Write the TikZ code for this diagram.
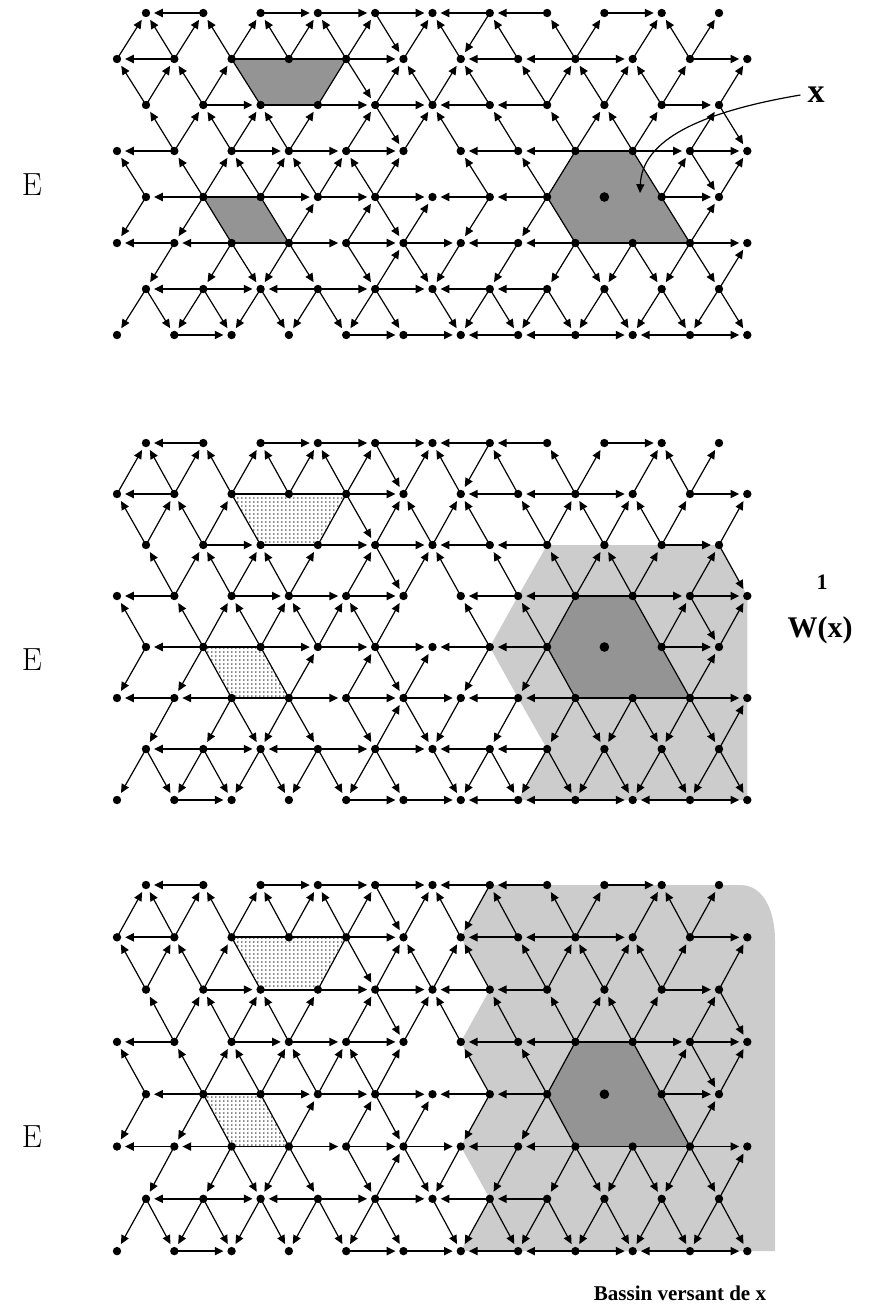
\documentclass[tikz,border=0pt]{standalone}
\usepackage{fontspec}
\newfontfamily\tms{Liberation Serif}
\usetikzlibrary{arrows.meta,patterns}
\pgfdeclarepatternformonly{sdots}{\pgfpointorigin}{\pgfqpoint{2.2pt}{2.2pt}}{\pgfqpoint{2.2pt}{2.2pt}}{\pgfpathcircle{\pgfqpoint{1.1pt}{1.1pt}}{0.42pt}\pgfusepath{fill}}
\begin{document}
\begin{tikzpicture}[x=0.5pt,y=-0.5pt,
  arr/.style={line width=0.6pt,-{Triangle[length=4.4pt,width=4pt]},shorten >=4pt},
  hz/.style={line width=0.95pt},
  pl/.style={line width=0.6pt},
  dense/.style={fill=black!42},
  mid/.style={fill=black!20},
  sparse/.style={pattern=sdots},
  lab/.style={font=\fontsize{16}{18}\selectfont},
  blab/.style={font=\tms\bfseries\fontsize{15}{17}\selectfont}
]
\useasboundingbox (0,0) rectangle (878,1313);
% lattice coordinates of the three panels
\foreach \p/\yo/\dy in {a/13/46,b/443/51,c/885/52.3}{
  \foreach \r in {0,2,4,6}{\foreach \c in {0,...,10}{\coordinate (\p-\r-\c) at ({146+57.3*\c},{\yo+\r*\dy});}}
  \foreach \r in {1,3,5,7}{\foreach \c in {0,...,11}{\coordinate (\p-\r-\c) at ({117+57.3*\c},{\yo+\r*\dy});}}
}
% shaded regions
\fill[dense] (a-1-2) -- (a-1-4) -- (a-2-3) -- (a-2-2) -- cycle;
\fill[dense] (a-4-1) -- (a-4-2) -- (a-5-3) -- (a-5-2) -- cycle;
\fill[sparse] (b-1-2) -- (b-1-4) -- (b-2-3) -- (b-2-2) -- cycle;
\fill[sparse] (b-4-1) -- (b-4-2) -- (b-5-3) -- (b-5-2) -- cycle;
\fill[sparse] (c-1-2) -- (c-1-4) -- (c-2-3) -- (c-2-2) -- cycle;
\fill[sparse] (c-4-1) -- (c-4-2) -- (c-5-3) -- (c-5-2) -- cycle;
\fill[mid] (b-2-7) -- (b-2-10) -- (b-3-11) -- (b-7-11) -- (b-7-7) -- (b-6-7) -- (b-5-7) -- (b-4-6) -- (b-3-7) -- cycle;
\fill[mid] (c-0-6) -- (c-0-10) -- (740,885) to[out=0,in=90] (775,940) -- (775,1251) -- (c-7-6) -- (c-6-6) -- (c-5-6) -- (c-4-6) -- (c-3-6) -- (c-2-6) -- (c-1-6) -- cycle;
\foreach \p in {a,b,c}{
  \fill[dense] (\p-3-8) -- (\p-3-9) -- (\p-5-10) -- (\p-5-8) -- (\p-4-7) -- cycle;
}
% connectors
\foreach \p in {a,b,c}{
  \foreach \ra/\ca/\rb/\cb in {
    0/1/0/0,0/2/0/3,0/3/0/4,0/4/0/5,0/6/0/5,0/7/0/6,0/8/0/9,
    1/0/0/0,1/1/0/0,1/1/0/1,1/2/0/1,1/2/0/2,1/3/0/2,1/3/0/3,1/4/0/3,1/4/0/4,0/4/1/5,1/5/0/5,1/6/0/5,0/6/1/6,1/7/0/6,1/8/0/7,1/8/0/8,1/9/0/9,1/10/0/9,1/10/0/10,
    1/1/1/0,1/4/1/5,1/7/1/6,1/8/1/7,1/8/1/9,1/10/1/11,
    2/0/1/0,2/0/1/1,2/1/1/1,2/1/1/2,1/4/2/4,2/4/1/5,2/5/1/5,2/5/1/6,2/6/1/6,2/7/1/7,2/7/1/8,2/8/1/8,2/8/1/9,2/9/1/9,2/9/1/10,2/10/1/11,
    2/1/2/2,2/3/2/4,2/4/2/5,2/6/2/5,2/7/2/6,2/9/2/10,
    3/1/2/0,3/1/2/1,3/2/2/1,3/2/2/2,3/3/2/2,3/3/2/3,3/4/2/4,2/4/3/5,3/5/2/5,3/6/2/5,3/7/2/6,3/8/2/7,3/8/2/8,3/9/2/8,3/9/2/9,3/10/2/10,2/10/3/11,
    3/1/3/0,3/2/3/3,3/3/3/4,3/4/3/5,3/7/3/6,3/8/3/7,3/9/3/10,3/10/3/11,
    4/0/3/0,4/1/3/1,4/1/3/2,4/2/3/2,4/2/3/3,4/3/3/3,4/3/3/4,4/4/3/4,4/4/3/5,4/6/3/6,4/7/3/7,4/9/3/10,3/10/4/10,4/10/3/11,
    4/1/4/0,4/2/4/3,4/3/4/4,4/4/4/5,4/6/4/5,4/7/4/6,4/9/4/10,
    4/0/5/0,4/1/5/1,5/3/4/3,5/4/4/4,4/4/5/5,5/5/4/5,4/6/5/6,4/7/5/7,5/10/4/10,
    5/1/5/0,5/2/5/1,5/3/5/4,5/4/5/5,5/5/5/6,5/7/5/6,5/8/5/7,5/10/5/11,
    5/1/6/0,5/2/6/1,5/2/6/2,5/3/6/2,5/3/6/3,5/4/6/4,6/4/5/5,5/5/6/5,5/6/6/5,5/7/6/6,5/8/6/7,5/8/6/8,5/9/6/8,5/9/6/9,5/10/6/9,5/10/6/10,6/10/5/11,
    6/1/6/0,6/1/6/2,6/3/6/2,6/3/6/4,6/4/6/5,6/6/6/5,6/7/6/6,
    6/0/7/0,6/0/7/1,6/1/7/1,6/1/7/2,6/2/7/2,6/2/7/3,6/3/7/3,6/3/7/4,6/4/7/4,6/4/7/5,6/5/7/6,6/6/7/6,6/6/7/7,6/7/7/7,6/7/7/8,6/8/7/8,6/8/7/9,6/9/7/9,6/9/7/10,6/10/7/10,6/10/7/11,
    7/1/7/2,7/4/7/5,7/5/7/6,7/7/7/6,7/8/7/7,7/8/7/9,7/10/7/9,7/10/7/11}
  {\ifnum\ra=\rb\relax\draw[arr,hz] (\p-\ra-\ca) -- (\p-\rb-\cb);\else\draw[arr] (\p-\ra-\ca) -- (\p-\rb-\cb);\fi}
  \foreach \ra/\ca/\rb/\cb in {
    1/2/1/3,1/3/1/4,2/2/2/3,4/1/4/2,5/2/5/3,3/8/3/9,5/10/5/8}
  {\draw[pl,hz] (\p-\ra-\ca) -- (\p-\rb-\cb);}
  \foreach \ra/\ca/\rb/\cb in {
    1/2/2/2,1/4/2/3,4/1/5/2,4/2/5/3,3/9/5/10,5/8/4/7,4/7/3/8}
  {\draw[pl] (\p-\ra-\ca) -- (\p-\rb-\cb);}
}
% vertices
\foreach \p in {a,b,c}{
  \foreach \r in {0,2,4,6}{\foreach \c in {0,...,10}{\fill (\p-\r-\c) circle (2.1pt);}}
  \foreach \r in {1,3,5,7}{\foreach \c in {0,...,11}{\fill (\p-\r-\c) circle (2.1pt);}}
  \fill (\p-4-8) circle (2.4pt);
}
% labels
\node[lab] (E1) at (32,185) {E};
\node[lab] (E2) at (32,660) {E};
\node[lab] (E3) at (32,1137) {E};
\node[font=\tms\bfseries\fontsize{17}{20}\selectfont] (xl) at (816,95) {x};
\draw[line width=0.6pt,-{Triangle[length=4.4pt,width=4pt]}] (xl.west) .. controls (700,112) and (642,140) .. (640,193);
\node[font=\tms\bfseries\fontsize{11}{13}\selectfont] (one) at (822,582) {1};
\node[blab] (W) at (820,630) {W(x)};
\node[font=\tms\bfseries\fontsize{10.5}{12}\selectfont] (bv) at (680,1293) {Bassin versant de x};
\end{tikzpicture}
\end{document}
